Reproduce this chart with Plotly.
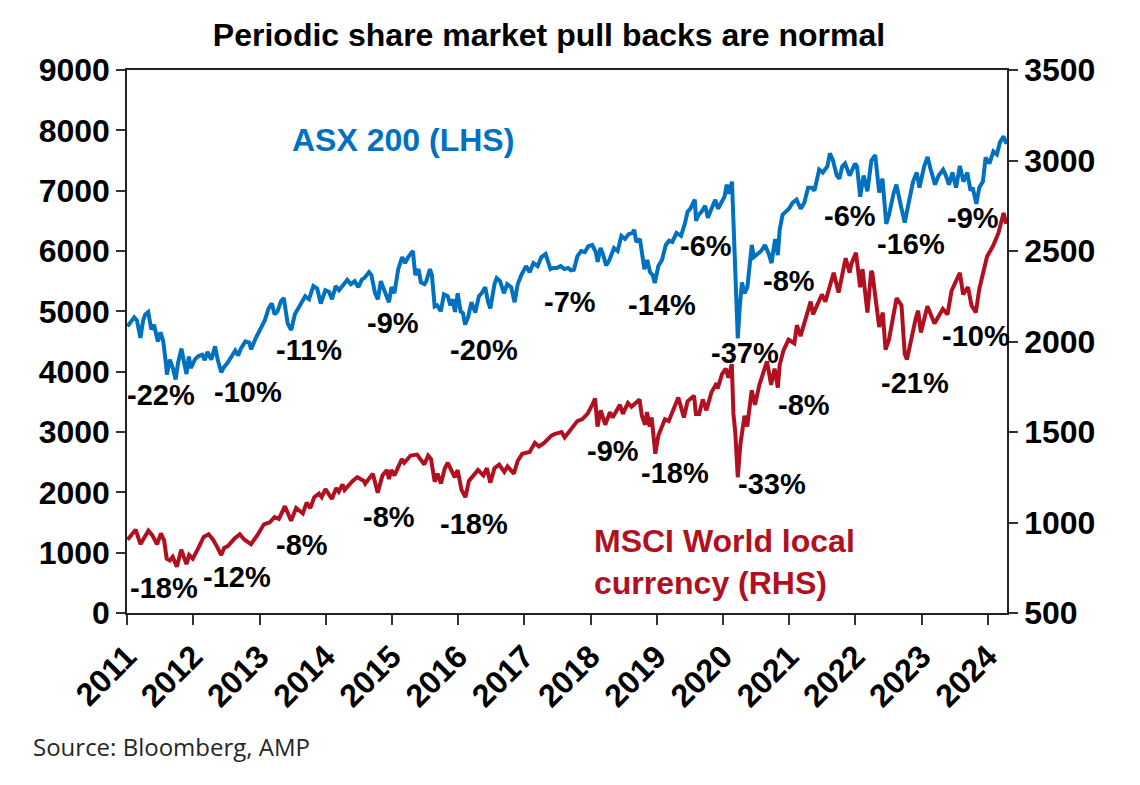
import plotly.graph_objects as go

# ---------------- DATA ----------------
asx_dates = [
    "2011-01-04","2011-01-20","2011-02-10","2011-02-25","2011-03-16","2011-03-31","2011-04-12","2011-04-28","2011-05-15","2011-05-30","2011-06-20","2011-07-05","2011-07-20","2011-08-05","2011-08-09","2011-08-25","2011-09-12","2011-09-26","2011-10-10","2011-10-28","2011-11-10","2011-11-25","2011-12-08","2011-12-20",
    "2012-01-10","2012-01-30","2012-02-20","2012-03-05","2012-03-20","2012-04-10","2012-05-01","2012-05-15","2012-06-04","2012-06-20","2012-07-10","2012-08-01","2012-08-20","2012-09-05","2012-09-20","2012-10-15","2012-11-05","2012-11-16","2012-12-10",
    "2013-01-05","2013-01-30","2013-02-20","2013-03-10","2013-03-25","2013-04-10","2013-04-30","2013-05-15","2013-06-05","2013-06-25","2013-07-15","2013-08-05","2013-08-25","2013-09-10","2013-10-01","2013-10-25","2013-11-15","2013-12-05","2013-12-30",
    "2014-01-20","2014-02-05","2014-02-25","2014-03-15","2014-04-05","2014-04-30","2014-05-20","2014-06-10","2014-06-30","2014-07-20","2014-08-01","2014-08-28","2014-09-10","2014-09-30","2014-10-16","2014-11-01","2014-11-20","2014-12-16","2014-12-30",
    "2015-01-15","2015-02-05","2015-02-27","2015-03-15","2015-04-01","2015-04-27","2015-05-10","2015-05-28","2015-06-10","2015-06-30","2015-07-10","2015-07-30","2015-08-10","2015-08-25","2015-09-08","2015-09-28","2015-10-15","2015-11-05","2015-11-20","2015-12-03","2015-12-15","2015-12-30",
    "2016-01-15","2016-01-28","2016-02-09","2016-02-25","2016-03-15","2016-04-05","2016-04-25","2016-05-10","2016-05-30","2016-06-15","2016-06-27","2016-07-20","2016-08-01","2016-08-20","2016-09-10","2016-09-28","2016-10-20","2016-11-08","2016-11-25","2016-12-15",
    "2017-01-10","2017-01-30","2017-02-20","2017-03-15","2017-04-05","2017-04-28","2017-05-10","2017-05-25","2017-06-10","2017-06-30","2017-07-20","2017-08-10","2017-08-30","2017-09-15","2017-10-01","2017-10-20","2017-11-10","2017-11-30","2017-12-20",
    "2018-01-10","2018-01-30","2018-02-09","2018-02-25","2018-03-10","2018-03-28","2018-04-15","2018-05-10","2018-05-30","2018-06-20","2018-07-10","2018-07-30","2018-08-20","2018-08-30","2018-09-10","2018-09-30","2018-10-10","2018-10-25","2018-11-10","2018-11-25","2018-12-10","2018-12-21",
    "2019-01-10","2019-01-30","2019-02-20","2019-03-10","2019-03-28","2019-04-20","2019-05-15","2019-06-05","2019-06-20","2019-07-05","2019-07-30","2019-08-06","2019-08-20","2019-09-05","2019-09-25","2019-10-10","2019-10-30","2019-11-20","2019-12-05","2019-12-20",
    "2020-01-10","2020-01-22","2020-02-03","2020-02-20","2020-02-28","2020-03-09","2020-03-16","2020-03-23","2020-04-03","2020-04-15","2020-04-30","2020-05-15","2020-06-08","2020-06-20","2020-07-10","2020-07-30","2020-08-20","2020-09-10","2020-09-25","2020-10-15","2020-10-30","2020-11-09","2020-11-25","2020-12-15","2020-12-30",
    "2021-01-20","2021-02-10","2021-03-05","2021-03-25","2021-04-15","2021-05-05","2021-05-20","2021-06-15","2021-07-05","2021-07-30","2021-08-13","2021-08-30","2021-09-20","2021-10-05","2021-10-20","2021-11-05","2021-11-30","2021-12-15","2021-12-30",
    "2022-01-10","2022-01-27","2022-02-15","2022-03-08","2022-03-30","2022-04-20","2022-05-12","2022-05-30","2022-06-20","2022-07-05","2022-07-30","2022-08-15","2022-09-05","2022-09-30","2022-10-15","2022-11-15","2022-12-05","2022-12-20",
    "2023-01-15","2023-02-03","2023-02-20","2023-03-16","2023-04-05","2023-04-30","2023-05-15","2023-06-01","2023-06-20","2023-07-10","2023-07-31","2023-08-20","2023-09-10","2023-09-28","2023-10-10","2023-10-30","2023-11-15","2023-12-05","2023-12-20",
    "2024-01-10","2024-02-01","2024-02-20","2024-03-08","2024-03-28","2024-04-10","2024-04-15",
]
asx_vals = [
    4750,4820,4900,4850,4560,4850,4950,4990,4700,4780,4500,4650,4500,4100,3950,4200,4050,3870,4150,4380,4200,3960,4250,4060,
    4200,4260,4280,4190,4330,4200,4420,4200,3990,4080,4150,4250,4350,4270,4380,4500,4480,4370,4550,
    4700,4850,5050,5130,4950,5000,5170,5220,4800,4690,4950,5050,5150,5250,5200,5420,5380,5130,5350,
    5320,5200,5420,5350,5420,5520,5450,5500,5400,5530,5550,5650,5600,5300,5200,5500,5350,5150,5400,
    5300,5700,5900,5800,5900,6000,5600,5700,5480,5450,5500,5700,5600,5080,5100,5000,5280,5250,5100,5200,4990,5300,
    5000,4970,4780,4900,5150,4980,5250,5300,5400,5150,5050,5450,5550,5500,5300,5450,5400,5150,5450,5600,
    5750,5650,5800,5750,5900,5950,5850,5700,5720,5720,5750,5700,5720,5680,5690,5910,6000,5980,6080,
    6100,5980,5820,6050,5950,5760,5850,6050,6000,6250,6200,6280,6300,6350,6150,6200,5950,5700,5850,5650,5600,5470,
    5750,5850,6100,6170,6150,6300,6250,6450,6650,6700,6850,6500,6600,6650,6750,6550,6700,6850,6700,6800,
    6900,7100,6950,7150,6450,5750,5000,4550,5070,5480,5300,5400,6100,5900,5950,6000,6100,5950,5800,6200,5930,6350,6600,6650,6700,
    6800,6850,6700,6800,7050,7050,7000,7350,7300,7400,7620,7500,7250,7200,7400,7450,7250,7350,7450,
    7400,6900,7250,6990,7500,7590,6970,7200,6450,6600,6950,7100,6800,6470,6700,7150,7300,7050,
    7400,7560,7350,7100,7250,7350,7250,7100,7300,7050,7410,7150,7300,7000,7050,6780,7050,7150,7550,
    7450,7650,7600,7800,7900,7800,7780,
]

msci_dates = [
    "2011-01-04","2011-01-25","2011-02-18","2011-03-16","2011-04-29","2011-05-20","2011-06-16","2011-07-07","2011-07-25","2011-08-08","2011-08-25","2011-09-10","2011-10-03","2011-10-27","2011-11-25","2011-12-10","2011-12-30",
    "2012-01-30","2012-02-28","2012-03-26","2012-04-20","2012-05-15","2012-06-04","2012-06-20","2012-07-10","2012-08-15","2012-09-14","2012-10-10","2012-11-15","2012-12-20",
    "2013-01-25","2013-02-25","2013-03-25","2013-04-18","2013-05-21","2013-06-24","2013-07-22","2013-08-28","2013-09-18","2013-10-08","2013-10-30","2013-11-25","2013-12-10","2013-12-31",
    "2014-02-04","2014-02-28","2014-03-14","2014-04-04","2014-04-15","2014-05-30","2014-06-24","2014-07-31","2014-08-07","2014-09-18","2014-10-15","2014-11-10","2014-12-05","2014-12-16","2014-12-29",
    "2015-01-15","2015-02-25","2015-03-10","2015-04-15","2015-05-20","2015-06-10","2015-06-29","2015-07-20","2015-08-05","2015-08-25","2015-09-10","2015-09-29","2015-10-20","2015-11-05","2015-12-14","2015-12-30",
    "2016-01-20","2016-02-11","2016-03-01","2016-04-20","2016-05-20","2016-06-08","2016-06-27","2016-07-20","2016-08-15","2016-09-12","2016-09-30","2016-11-04","2016-11-25","2016-12-20",
    "2017-01-30","2017-02-28","2017-03-22","2017-04-20","2017-05-30","2017-06-20","2017-07-25","2017-08-11","2017-09-20","2017-10-20","2017-11-15","2017-12-15",
    "2018-01-10","2018-01-26","2018-02-08","2018-02-26","2018-03-23","2018-04-18","2018-05-03","2018-06-12","2018-06-28","2018-07-26","2018-08-15","2018-09-28","2018-10-11","2018-10-29","2018-11-08","2018-11-23","2018-12-04","2018-12-24",
    "2019-01-10","2019-02-15","2019-03-08","2019-04-30","2019-05-31","2019-06-20","2019-07-26","2019-08-05","2019-08-23","2019-09-12","2019-10-02","2019-10-30","2019-11-27","2019-12-03","2019-12-27",
    "2020-01-17","2020-01-31","2020-02-19","2020-02-28","2020-03-09","2020-03-23","2020-04-06","2020-04-29","2020-05-14","2020-06-08","2020-06-26","2020-07-20","2020-08-31","2020-09-23","2020-10-12","2020-10-30","2020-11-09","2020-11-30","2020-12-28",
    "2021-01-29","2021-02-12","2021-03-04","2021-03-29","2021-04-29","2021-05-12","2021-06-30","2021-07-19","2021-08-30","2021-09-03","2021-09-30","2021-10-29","2021-11-08","2021-11-30","2021-12-10",
    "2022-01-04","2022-01-27","2022-02-09","2022-03-08","2022-03-29","2022-04-04","2022-05-12","2022-06-01","2022-06-16","2022-07-05","2022-08-16","2022-09-12","2022-09-30","2022-10-12","2022-11-30","2022-12-13","2022-12-28",
    "2023-01-20","2023-02-02","2023-03-13","2023-04-28","2023-05-24","2023-06-15","2023-07-31","2023-08-18","2023-09-14","2023-10-03","2023-10-27","2023-11-15","2023-12-28",
    "2024-01-31","2024-02-29","2024-03-28","2024-04-12",
]
msci_vals = [
    905,930,960,880,955,930,880,940,900,800,790,810,755,850,770,820,800,
    860,920,935,905,860,820,860,870,910,935,905,880,930,
    990,1000,1030,1020,1090,1010,1080,1050,1110,1080,1140,1160,1140,1185,
    1130,1190,1170,1210,1180,1230,1250,1230,1215,1270,1165,1260,1290,1240,1290,
    1260,1350,1330,1370,1375,1350,1320,1370,1350,1225,1270,1215,1300,1330,1250,1290,
    1180,1140,1230,1290,1260,1300,1220,1300,1320,1280,1310,1270,1340,1380,
    1390,1440,1420,1440,1480,1490,1500,1470,1520,1560,1570,1600,
    1650,1685,1530,1620,1540,1610,1580,1650,1600,1660,1640,1680,1590,1540,1610,1530,1580,1380,
    1480,1570,1560,1690,1580,1670,1700,1600,1600,1680,1620,1720,1770,1740,1820,
    1850,1800,1875,1600,1500,1250,1430,1590,1530,1730,1650,1760,1890,1760,1850,1745,1870,1950,2010,
    1990,2090,2030,2120,2220,2150,2260,2220,2370,2380,2270,2400,2460,2380,2430,
    2490,2300,2400,2160,2390,2380,2080,2160,1955,2010,2240,2200,1930,1900,2130,2170,2050,
    2150,2195,2100,2180,2150,2280,2380,2260,2300,2200,2160,2290,2470,
    2530,2600,2710,2650,
]

year_ticks = [str(y) for y in range(2011, 2025)]

# drawdown labels: text and pixel centre (x, y) in the 1140x785 picture
dd_text = ["-22%","-10%","-11%","-9%","-20%","-7%","-14%","-6%","-37%","-8%","-6%","-16%","-9%",
           "-18%","-12%","-8%","-8%","-18%","-9%","-18%","-33%","-8%","-21%","-10%"]
dd_px = [161,248,309,393,484,570,662,706,745,789,850,911,973,
         164,237,302,389,474,613,675,772,804,915,976]
dd_py = [395,392,350,323,350,302,305,246,353,281,216,244,218,
         588,577,545,517,524,451,473,484,405,383,336]

BLUE = "#0070C0"
RED = "#B01020"
FONT = "Liberation Sans, Arial, sans-serif"

# picture geometry (page has an 8px body margin)
OFF = 8
PW, PH = 1140, 785
L, R, T, B = 127, 1007, 70, 613          # plot area in picture pixels
W, H = PW - 2 * OFF, PH - 2 * OFF         # figure size


def px_x(px):
    return (px - L) / (R - L)


def px_y(py):
    return (B - py) / (B - T)


fig = go.Figure()
fig.add_trace(go.Scatter(x=msci_dates, y=msci_vals, mode="lines", yaxis="y2",
                         line=dict(color=RED, width=4), name="MSCI"))
fig.add_trace(go.Scatter(x=asx_dates, y=asx_vals, mode="lines",
                         line=dict(color=BLUE, width=4), name="ASX"))

anns = []
for t, px, py in zip(dd_text, dd_px, dd_py):
    anns.append(dict(text=t, x=px_x(px), y=px_y(py),
                     xref="paper", yref="paper", showarrow=False,
                     xanchor="center", yanchor="middle",
                     font=dict(family=FONT, size=29, color="black", weight="bold")))

anns.append(dict(text="ASX 200 (LHS)", x=px_x(403), y=px_y(140),
                 xref="paper", yref="paper", showarrow=False, xanchor="center", yanchor="middle",
                 font=dict(family=FONT, size=32, color=BLUE, weight="bold")))
anns.append(dict(text="MSCI World local<br>currency (RHS)", x=px_x(592), y=px_y(562),
                 xref="paper", yref="paper", showarrow=False, xanchor="left", yanchor="middle", align="left",
                 font=dict(family=FONT, size=32, color=RED, weight="bold")))
anns.append(dict(text="Source: Bloomberg, AMP", x=px_x(31), y=px_y(746),
                 xref="paper", yref="paper", showarrow=False, xanchor="left", yanchor="middle",
                 font=dict(family="Open Sans, sans-serif", size=24, color="#262626")))

tick_font = dict(family=FONT, size=32, color="black", weight="bold")

fig.update_layout(
    width=W, height=H,
    margin=dict(l=L - OFF, r=W - (R - OFF), t=T - OFF, b=H - (B - OFF), autoexpand=False),
    paper_bgcolor="white", plot_bgcolor="white",
    showlegend=False,
    title=dict(text="Periodic share market pull backs are normal", x=(549 - OFF) / W, xanchor="center",
               y=1 - (35 - OFF) / H, yanchor="middle",
               font=dict(family=FONT, size=32, color="black", weight="bold")),
    xaxis=dict(type="date", range=["2011-01-01", "2024-04-16"],
               tickvals=[f"{y}-01-01" for y in year_ticks], ticktext=year_ticks,
               tickangle=-45, ticks="outside", ticklen=10, tickwidth=1.5, tickcolor="#333",
               showline=True, linecolor="#222", linewidth=2, mirror=True,
               showgrid=False, zeroline=False,
               tickfont=dict(family=FONT, size=32, color="black", weight="bold")),
    yaxis=dict(range=[0, 9000], dtick=1000, ticks="outside", ticklen=9, tickwidth=1.5, tickcolor="#333",
               showline=True, linecolor="#222", linewidth=1.5, showgrid=False, zeroline=False,
               tickfont=tick_font),
    yaxis2=dict(range=[500, 3500], dtick=500, overlaying="y", side="right",
                ticks="outside", ticklen=9, tickwidth=1.5, tickcolor="#333",
                showline=True, linecolor="#222", linewidth=1.5, showgrid=False, zeroline=False,
                tickfont=tick_font),
    annotations=anns,
)

fig.write_html("out.html")
